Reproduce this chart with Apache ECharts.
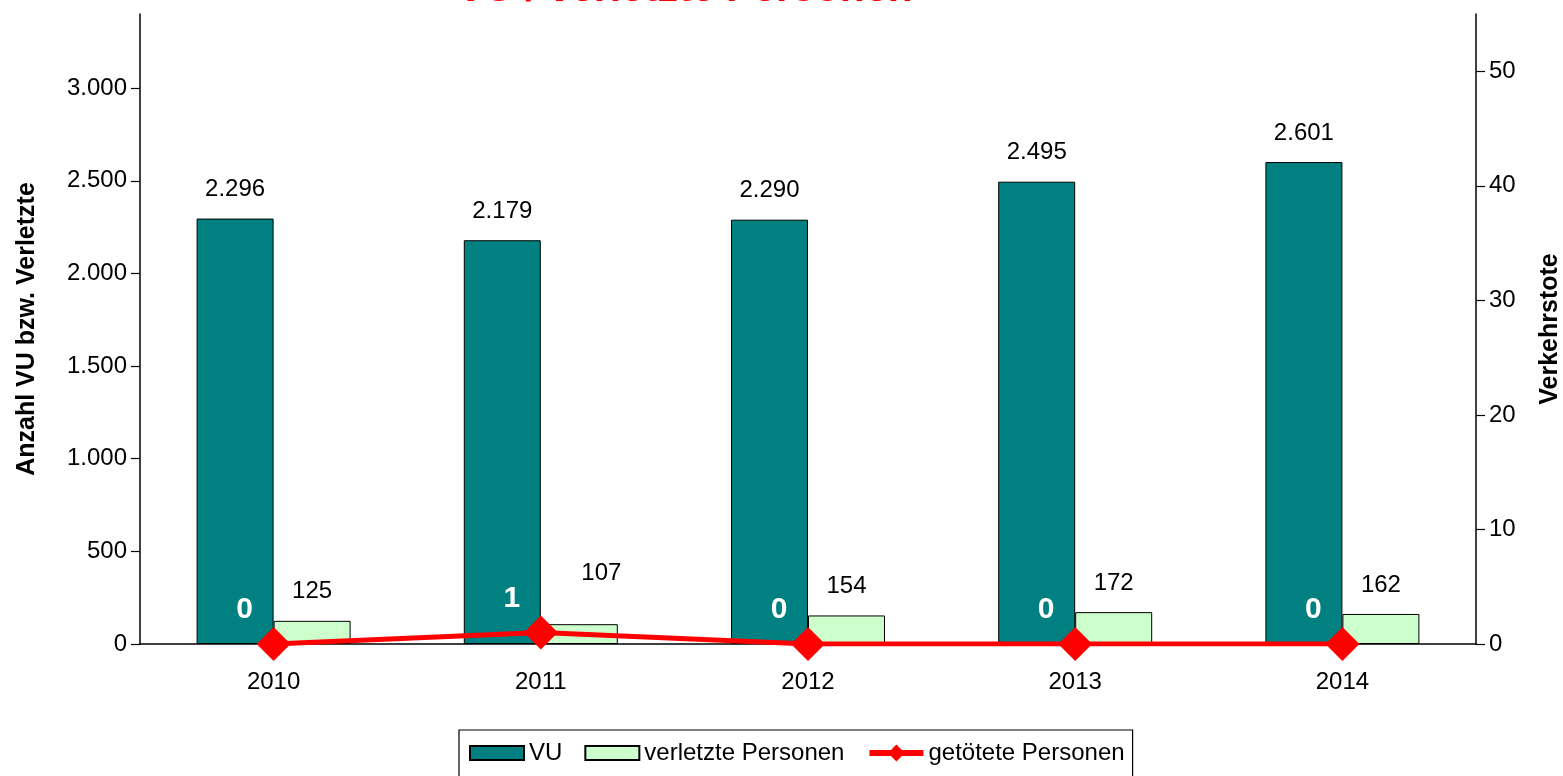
<!DOCTYPE html>
<html>
<head>
<meta charset="utf-8">
<script src="https://cdn.jsdelivr.net/npm/echarts@6/dist/echarts.min.js"></script>
<style>
  html, body { margin: 0; padding: 0; background: #fff; }
  #main { width: 1563px; height: 776px; }
</style>
</head>
<body>
<div id="main"></div>
<script>
// Daten aus dem Diagramm
const years = ['2010', '2011', '2012', '2013', '2014'];
const vu = [2296, 2179, 2290, 2495, 2601];
const verletzte = [125, 107, 154, 172, 162];
const getoetete = [0, 1, 0, 0, 0];
const leftTicks = [0, 500, 1000, 1500, 2000, 2500, 3000];
const rightTicks = [0, 10, 20, 30, 40, 50];

// Tausenderpunkt wie im Original
function fmt(v) {
    return String(v).replace(/\B(?=(\d{3})+(?!\d))/g, '.');
}

const font = 'Arial, "Liberation Sans", sans-serif';

// Wertachse mit Beschriftung
function valueAxis(pos, max, ticks, name, gap) {
    return {
        type: 'value',
        position: pos,
        min: 0,
        max: max,
        name: name,
        nameLocation: 'middle',
        nameGap: gap,
        nameTextStyle: { fontSize: 25, fontWeight: 'bold', color: '#000', fontFamily: font },
        axisLine: { show: true, lineStyle: { color: '#000', width: 1.5 } },
        axisTick: {
            show: true, length: 9, customValues: ticks,
            lineStyle: { color: '#000', width: 1.2 }
        },
        axisLabel: {
            customValues: ticks,
            fontSize: 24, color: '#000', margin: 13, fontFamily: font,
            formatter: function (v) { return fmt(v); }
        },
        splitLine: { show: false }
    };
}

// Label "107" sitzt im Original etwas versetzt (wegen der Linie)
const verletzteData = verletzte.map(function (v, i) {
    return i === 1 ? { value: v, label: { offset: [22, -22] } } : v;
});

const option = {
    animation: false,
    title: {
        text: 'VU / verletzte Personen',
        left: 452,
        top: -36,
        textStyle: { color: '#ff0000', fontSize: 41, fontWeight: 'bold', fontFamily: font }
    },
    grid: { left: 140, right: 87, top: 14, bottom: 132, outerBoundsMode: 'none' },
    legend: {
        top: 730,
        left: 459,
        padding: [11, 8, 14, 10],
        borderColor: '#000',
        borderWidth: 1.2,
        itemWidth: 54,
        itemHeight: 14,
        itemGap: 22,
        textStyle: { fontSize: 24, color: '#000', fontFamily: font },
        data: [
            { name: 'VU', icon: 'rect' },
            { name: 'verletzte Personen', icon: 'rect' },
            {
                name: 'getötete Personen',
                lineStyle: { width: 6, color: '#ff0000' },
                itemStyle: { color: '#ff0000', borderColor: '#ff0000', borderWidth: 4 }
            }
        ]
    },
    xAxis: {
        type: 'category',
        data: years,
        axisLine: { lineStyle: { color: '#000', width: 1.5 } },
        axisTick: { length: 8, lineStyle: { color: '#000', width: 1.2 } },
        axisLabel: { fontSize: 24, color: '#000', margin: 26, fontFamily: font }
    },
    yAxis: [
        valueAxis('left', 3400, leftTicks, 'Anzahl VU bzw. Verletzte', 100),
        valueAxis('right', 55, rightTicks, 'Verkehrstote', 62)
    ],
    series: [
        {
            name: 'VU',
            type: 'bar',
            data: vu,
            barWidth: 77,
            barGap: '0%',
            itemStyle: { color: '#008080', borderColor: '#000', borderWidth: 1 },
            label: {
                show: true, position: 'top', distance: 17,
                fontSize: 24, color: '#000', fontFamily: font,
                formatter: function (p) { return fmt(p.value); }
            }
        },
        {
            name: 'verletzte Personen',
            type: 'bar',
            data: verletzteData,
            barWidth: 77,
            itemStyle: { color: '#ccffcc', borderColor: '#000', borderWidth: 1 },
            label: {
                show: true, position: 'top', distance: 17,
                fontSize: 24, color: '#000', fontFamily: font
            }
        },
        {
            name: 'getötete Personen',
            type: 'line',
            yAxisIndex: 1,
            data: getoetete,
            symbol: 'diamond',
            symbolSize: 34,
            lineStyle: { color: '#ff0000', width: 5 },
            itemStyle: { color: '#ff0000' },
            label: {
                show: true, position: 'top', distance: 4, offset: [-29, 2],
                fontSize: 30, fontWeight: 'bold', color: '#fff', fontFamily: font
            }
        }
    ]
};

const myChart = echarts.init(document.getElementById('main'));
myChart.setOption(option);
</script>
</body>
</html>
